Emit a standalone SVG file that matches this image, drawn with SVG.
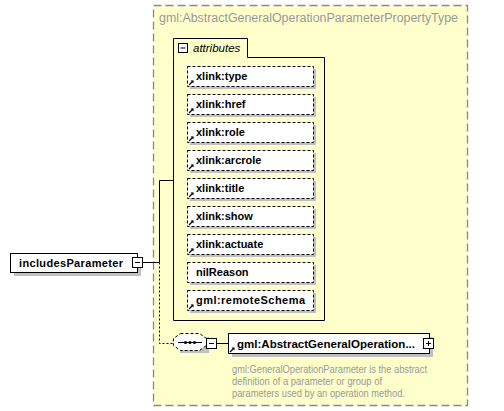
<svg xmlns="http://www.w3.org/2000/svg" width="504" height="411" viewBox="0 0 504 411">
<defs>
<style>
text{font-family:"Liberation Sans",Arial,sans-serif}
.attr{fill:#fff;stroke:#000;stroke-width:1;stroke-dasharray:3,2}
.sh{fill:#c0c0c0}
.at{font-size:11px;font-weight:bold;fill:#000}
.ln{fill:none;stroke:#000;stroke-width:1}
.dl{fill:none;stroke:#000;stroke-width:1;stroke-dasharray:2,2}
.bx{fill:#fff;stroke:#000;stroke-width:1}
.desc{font-size:10.5px;fill:#999}
</style>
<g id="arr">
<path d="M0,0 L4,-4" stroke="#000" stroke-width="1.3"/>
<path d="M1.5,-4.5 L4.5,-4.5 L4.5,-1.5 Z" fill="#000"/>
</g>
</defs>

<g id="complexType">
<rect x="153.5" y="5.5" width="314" height="400" fill="#ffffcc" stroke="#888" stroke-width="1.3" stroke-dasharray="8,4"/>
<text x="159" y="22" font-size="12px" fill="#999" textLength="299" lengthAdjust="spacingAndGlyphs">gml:AbstractGeneralOperationParameterPropertyType</text>
</g>

<g id="connectors">
<path class="ln" d="M142,262.5 H159.5 V180.5 H173"/>
<path class="dl" d="M159.5,262.5 V343.5 H173"/>
<path class="ln" d="M217,343.5 H228"/>
</g>

<g id="attributes">
<path d="M173.5,57.5 V38.5 H247.5 V57.5 H324.5 V320.5 H173.5 Z" fill="#ffffcc" stroke="#000" stroke-width="1"/>
<rect x="178.5" y="43.5" width="9" height="9" class="bx"/>
<path class="ln" d="M180.5,48 H185.5"/>
<text x="193" y="52" font-size="11.5px" font-style="italic" fill="#000">attributes</text>
</g>

<g id="attr-type"><rect class="sh" x="190" y="69" width="126" height="20"/><rect class="attr" x="187.5" y="66.5" width="126" height="20"/><use href="#arr" x="189" y="85"/><text class="at" x="196" y="80">xlink:type</text></g>
<g id="attr-href"><rect class="sh" x="190" y="97" width="126" height="20"/><rect class="attr" x="187.5" y="94.5" width="126" height="20"/><use href="#arr" x="189" y="113"/><text class="at" x="196" y="108">xlink:href</text></g>
<g id="attr-role"><rect class="sh" x="190" y="125" width="126" height="20"/><rect class="attr" x="187.5" y="122.5" width="126" height="20"/><use href="#arr" x="189" y="141"/><text class="at" x="196" y="136">xlink:role</text></g>
<g id="attr-arcrole"><rect class="sh" x="190" y="153" width="126" height="20"/><rect class="attr" x="187.5" y="150.5" width="126" height="20"/><use href="#arr" x="189" y="169"/><text class="at" x="196" y="164">xlink:arcrole</text></g>
<g id="attr-title"><rect class="sh" x="190" y="181" width="126" height="20"/><rect class="attr" x="187.5" y="178.5" width="126" height="20"/><use href="#arr" x="189" y="197"/><text class="at" x="196" y="192">xlink:title</text></g>
<g id="attr-show"><rect class="sh" x="190" y="209" width="126" height="20"/><rect class="attr" x="187.5" y="206.5" width="126" height="20"/><use href="#arr" x="189" y="225"/><text class="at" x="196" y="220">xlink:show</text></g>
<g id="attr-actuate"><rect class="sh" x="190" y="237" width="126" height="20"/><rect class="attr" x="187.5" y="234.5" width="126" height="20"/><use href="#arr" x="189" y="253"/><text class="at" x="196" y="248">xlink:actuate</text></g>
<g id="attr-nilReason"><rect class="sh" x="190" y="265" width="126" height="20"/><rect class="attr" x="187.5" y="262.5" width="126" height="20"/><text class="at" x="196" y="276">nilReason</text></g>
<g id="attr-remoteSchema"><rect class="sh" x="190" y="293" width="126" height="20"/><rect class="attr" x="187.5" y="290.5" width="126" height="20"/><use href="#arr" x="189" y="309"/><text class="at" x="196" y="304" textLength="109" lengthAdjust="spacing">gml:remoteSchema</text></g>

<g id="includesParameter">
<rect class="sh" x="14" y="257" width="127" height="19"/>
<rect class="bx" x="10.5" y="253.5" width="127" height="19"/>
<text class="at" x="19" y="267" textLength="104" lengthAdjust="spacing">includesParameter</text>
<rect class="bx" x="132.5" y="257.5" width="10" height="10"/>
<path class="ln" d="M135,262.5 H140"/>
</g>

<g id="sequence">
<path d="M180,337 H209 V353 H180 Z" class="sh"/>
<path d="M180.5,333.5 H199.5 L206.5,338.5 V345.5 L199.5,350.5 H180.5 L173.5,345.5 V338.5 Z" fill="#fff" stroke="#000" stroke-width="1" stroke-dasharray="3,2"/>
<path class="ln" d="M178,342.5 H202"/>
<circle cx="185.5" cy="342.5" r="1.5"/><circle cx="190" cy="342.5" r="1.5"/><circle cx="194.5" cy="342.5" r="1.5"/>
<rect class="bx" x="206.5" y="338.5" width="10" height="10"/>
<path class="ln" d="M209,343.5 H214"/>
</g>

<g id="AbstractGeneralOperationParameter">
<rect class="sh" x="232" y="337" width="201" height="20"/>
<rect class="bx" x="228.5" y="333.5" width="201" height="20"/>
<use href="#arr" x="230" y="352"/>
<text class="at" x="237" y="348" font-size="11.5px" textLength="178" lengthAdjust="spacingAndGlyphs">gml:AbstractGeneralOperation...</text>
<rect class="bx" x="423.5" y="338.5" width="10" height="10"/>
<path class="ln" d="M426,343.5 H431 M428.5,341 V346"/>
<text class="desc" x="232" y="373" textLength="195" lengthAdjust="spacingAndGlyphs">gml:GeneralOperationParameter is the abstract</text>
<text class="desc" x="232" y="385" textLength="150" lengthAdjust="spacingAndGlyphs">definition of a parameter or group of</text>
<text class="desc" x="232" y="397" textLength="173" lengthAdjust="spacingAndGlyphs">parameters used by an operation method.</text>
</g>
</svg>
